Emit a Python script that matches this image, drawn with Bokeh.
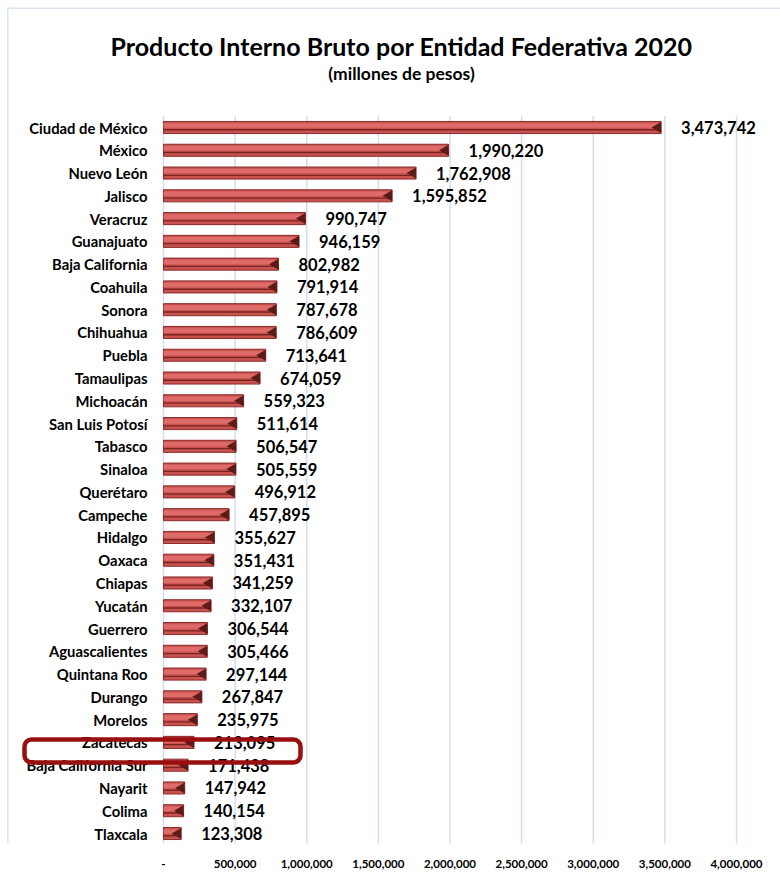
import math
from bokeh.plotting import figure
from bokeh.models import (ColumnDataSource, Range1d, FixedTicker,
                          NumeralTickFormatter, Label, BoxAnnotation)
from bokeh.transform import dodge
from bokeh.core.properties import value
from bokeh.embed import file_html
from bokeh.resources import INLINE

# ---- data ----
states = ["Ciudad de México", "México", "Nuevo León", "Jalisco", "Veracruz",
          "Guanajuato", "Baja California", "Coahuila", "Sonora", "Chihuahua",
          "Puebla", "Tamaulipas", "Michoacán", "San Luis Potosí", "Tabasco",
          "Sinaloa", "Querétaro", "Campeche", "Hidalgo", "Oaxaca", "Chiapas",
          "Yucatán", "Guerrero", "Aguascalientes", "Quintana Roo", "Durango",
          "Morelos", "Zacatecas", "Baja California Sur", "Nayarit", "Colima",
          "Tlaxcala"]
pib = [3473742, 1990220, 1762908, 1595852, 990747, 946159, 802982, 791914,
       787678, 786609, 713641, 674059, 559323, 511614, 506547, 505559, 496912,
       457895, 355627, 351431, 341259, 332107, 306544, 305466, 297144, 267847,
       235975, 213095, 171438, 147942, 140154, 123308]
x_ticks = [0, 500000, 1000000, 1500000, 2000000, 2500000, 3000000, 3500000, 4000000]
title_text = "Producto Interno Bruto por Entidad Federativa 2020"
subtitle_text = "(millones de pesos)"

FONT = "Lato"

# ---- layout constants (pixels) ----
FIG_W, FIG_H = 780, 883
FRAME_H = 843                 # frame from top of page down to the axis
ZERO_PX = 163                 # x pixel of value 0
SCALE_PX = 573                # pixels for 4,000,000
FIRST_ROW_PX, LAST_ROW_PX = 127, 833
n = len(states)
row_px = (LAST_ROW_PX - FIRST_ROW_PX) / (n - 1)
units_per_px = 4000000 / SCALE_PX
x_start = -ZERO_PX * units_per_px
x_end = x_start + FIG_W * units_per_px
y_start = -(FRAME_H - LAST_ROW_PX) / row_px
y_end = (n - 1) + FIRST_ROW_PX / row_px

ypos = [n - 1 - i for i in range(n)]
src = ColumnDataSource(dict(
    cat=states,
    y=ypos,
    val=pib,
    lab=[f"{v:,}" for v in pib],
))

p = figure(frame_width=FIG_W, frame_height=FRAME_H,
           x_range=Range1d(x_start, x_end), y_range=Range1d(y_start, y_end),
           output_backend="svg", toolbar_location=None,
           min_border_left=0, min_border_right=0,
           min_border_top=0, min_border_bottom=FIG_H - FRAME_H)
p.background_fill_color = "white"
p.border_fill_color = "white"
p.outline_line_color = None
p.yaxis.visible = False
p.ygrid.grid_line_color = None
p.xgrid.grid_line_color = None

# vertical gridlines limited to the category block
p.segment(x0=x_ticks, x1=x_ticks, y0=-0.5, y1=n - 0.5,
          line_color="#D3DFF0", line_width=1.5)

ax = p.xaxis[0]
ax.ticker = FixedTicker(ticks=x_ticks)
ax.formatter = NumeralTickFormatter(format="0,0")
ax.major_label_overrides = {0: "-"}
ax.axis_line_color = None
ax.major_tick_line_color = None
ax.minor_tick_line_color = None
ax.major_label_standoff = 10
ax.major_label_text_font = FONT
ax.major_label_text_font_style = "bold"
ax.major_label_text_font_size = "11.5px"
ax.major_label_text_color = "black"

# ---- bars (3D-like) ----
BAR_H = 0.53
p.hbar(y="y", right="val", left=0, height=BAR_H, source=src,
       fill_color="#C9524F", line_color="#8A2C2A", line_width=1)
p.hbar(y=dodge("y", 0.09), right="val", left=0, height=0.2,
       source=src, fill_color="#DE6B67", line_color=None)
p.hbar(y=dodge("y", -0.1), right="val", left=0, height=0.06,
       source=src, fill_color="#7A2422", line_color=None)
cap_size = 11
p.scatter(x=dodge("val", -0.577 * cap_size / 2 * units_per_px), y="y",
          marker="triangle", angle=math.pi / 2, size=cap_size, source=src,
          fill_color="#5C1A18", line_color=None)

# ---- labels ----
p.text(x=0, y="y", text="cat", source=src, x_offset=-16,
       text_align="right", text_baseline="middle",
       text_font=value(FONT), text_font_style="bold",
       text_font_size="14.8px", text_color="black")
p.text(x="val", y="y", text="lab", source=src, x_offset=20,
       text_align="left", text_baseline="middle",
       text_font=value(FONT), text_font_style="bold",
       text_font_size="16.5px", text_color="black")

# ---- titles ----
p.add_layout(Label(x=401, y=FRAME_H - 45, x_units="screen", y_units="screen",
                   text=title_text, text_align="center", text_baseline="middle",
                   text_font=FONT, text_font_style="bold", text_font_size="25px",
                   text_color="black"))
p.add_layout(Label(x=401, y=FRAME_H - 73, x_units="screen", y_units="screen",
                   text=subtitle_text, text_align="center", text_baseline="middle",
                   text_font=FONT, text_font_style="bold", text_font_size="17.5px",
                   text_color="black"))

# ---- highlight box around Zacatecas ----
p.add_layout(BoxAnnotation(left=24, right=300, bottom=FRAME_H - 762, top=FRAME_H - 739,
                           left_units="screen", right_units="screen",
                           bottom_units="screen", top_units="screen",
                           fill_alpha=0, line_color="#990F0F", line_alpha=1,
                           line_width=4.5, border_radius=7))

# ---- outer chart border (top and left edges only) ----
BORDER = "#D9E2F1"
p.add_layout(BoxAnnotation(left=7, right=FIG_W, bottom=FRAME_H - 8.5, top=FRAME_H - 7,
                           left_units="screen", right_units="screen",
                           bottom_units="screen", top_units="screen",
                           fill_color=BORDER, fill_alpha=1, line_color=None))
p.add_layout(BoxAnnotation(left=6.5, right=8, bottom=0, top=FRAME_H - 7,
                           left_units="screen", right_units="screen",
                           bottom_units="screen", top_units="screen",
                           fill_color=BORDER, fill_alpha=1, line_color=None))

open("out.html", "w").write(file_html(p, INLINE))
